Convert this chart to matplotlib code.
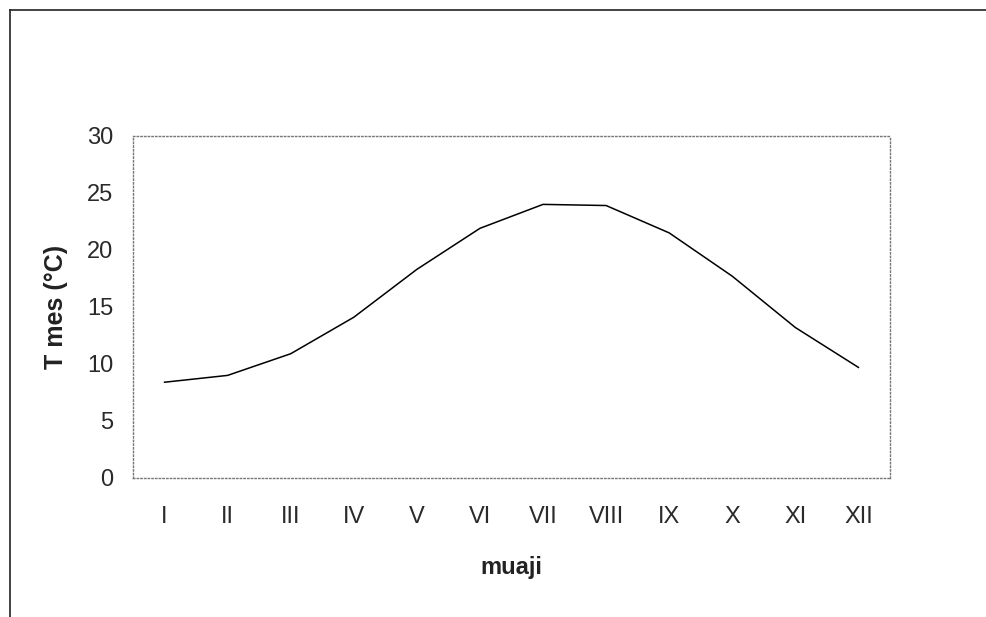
import matplotlib.pyplot as plt
from matplotlib.lines import Line2D

plt.rcParams['font.family'] = ['Liberation Sans', 'DejaVu Sans']

months = ['I', 'II', 'III', 'IV', 'V', 'VI', 'VII', 'VIII', 'IX', 'X', 'XI', 'XII']
t_mes = [8.4, 9.0, 10.9, 14.1, 18.3, 21.9, 24.0, 23.9, 21.5, 17.7, 13.2, 9.7]

fig = plt.figure(figsize=(9.86, 6.17), dpi=100)
ax = fig.add_axes([0.1349, 0.2253, 0.7677, 0.5543])

x = list(range(len(months)))
ax.plot(x, t_mes, color='black', linewidth=1.1)

ax.set_xlim(-0.5, len(months) - 0.5)
ax.set_ylim(0, 30)
ax.set_yticks([0, 5, 10, 15, 20, 25, 30])
ax.set_xticks(x)
ax.set_xticklabels(months)
ax.tick_params(axis='both', length=0, labelsize=17, labelcolor='#2a2a2a')
ax.tick_params(axis='y', pad=14)
ax.tick_params(axis='x', pad=20)

for side in ['left', 'right', 'top', 'bottom']:
    ax.spines[side].set_linestyle(':')
    ax.spines[side].set_color('#777777')
    ax.spines[side].set_linewidth(1.0)

ax.set_xlabel('muaji', fontsize=17, fontweight='bold', color='#222222', labelpad=20)
ax.set_ylabel('T mes (°C)', fontsize=18, fontweight='bold', color='#222222', labelpad=14)

# outer frame (left and top edges only visible)
fig.add_artist(Line2D([0.0106, 0.0106], [0, 0.984], transform=fig.transFigure,
                      color='#222222', linewidth=1.2))
fig.add_artist(Line2D([0.0106, 1.0], [0.984, 0.984], transform=fig.transFigure,
                      color='#222222', linewidth=1.2))

fig.savefig('out.png', dpi=100)
